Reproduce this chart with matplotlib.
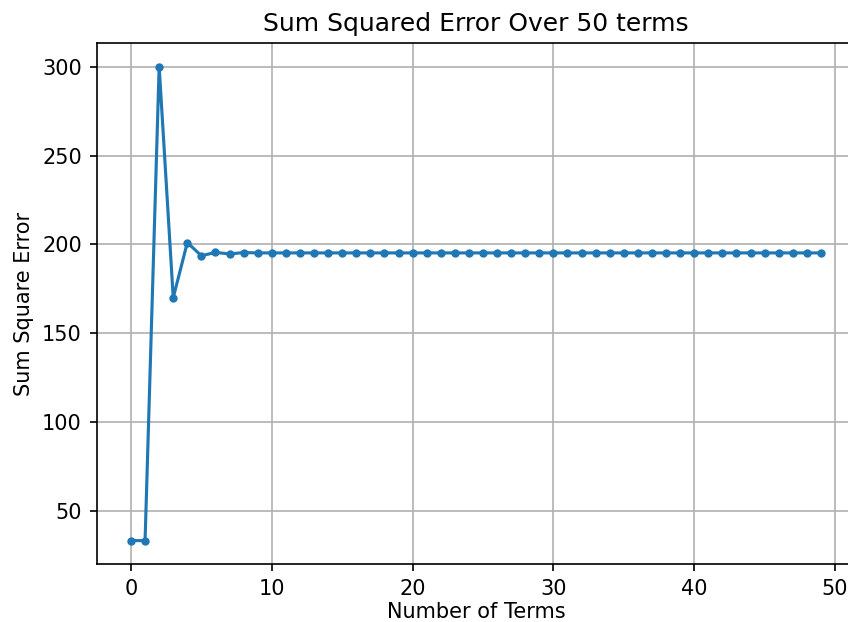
import matplotlib
matplotlib.use("Agg")
import matplotlib.pyplot as plt

# values
terms = list(range(50))
sse = [33.3, 33.3, 300.0, 170.0, 201.0, 193.6, 195.5, 194.6, 195.4] + [195.2] * 41

DPI = 150
fig = plt.figure(figsize=(848 / DPI, 622 / DPI), dpi=DPI)
# axes runs past the right edge, as in the reference
ax = fig.add_axes([96.5 / 848, 1 - 564.3 / 622, (855.4 - 96.5) / 848, (564.3 - 43.0) / 622])

ax.plot(terms, sse, marker='.')
ax.set_title("Sum Squared Error Over 50 terms")
ax.set_xlabel("Number of Terms", labelpad=1.5)
ax.set_ylabel("Sum Square Error")
ax.grid(True)

fig.savefig("out.png", dpi=DPI)
